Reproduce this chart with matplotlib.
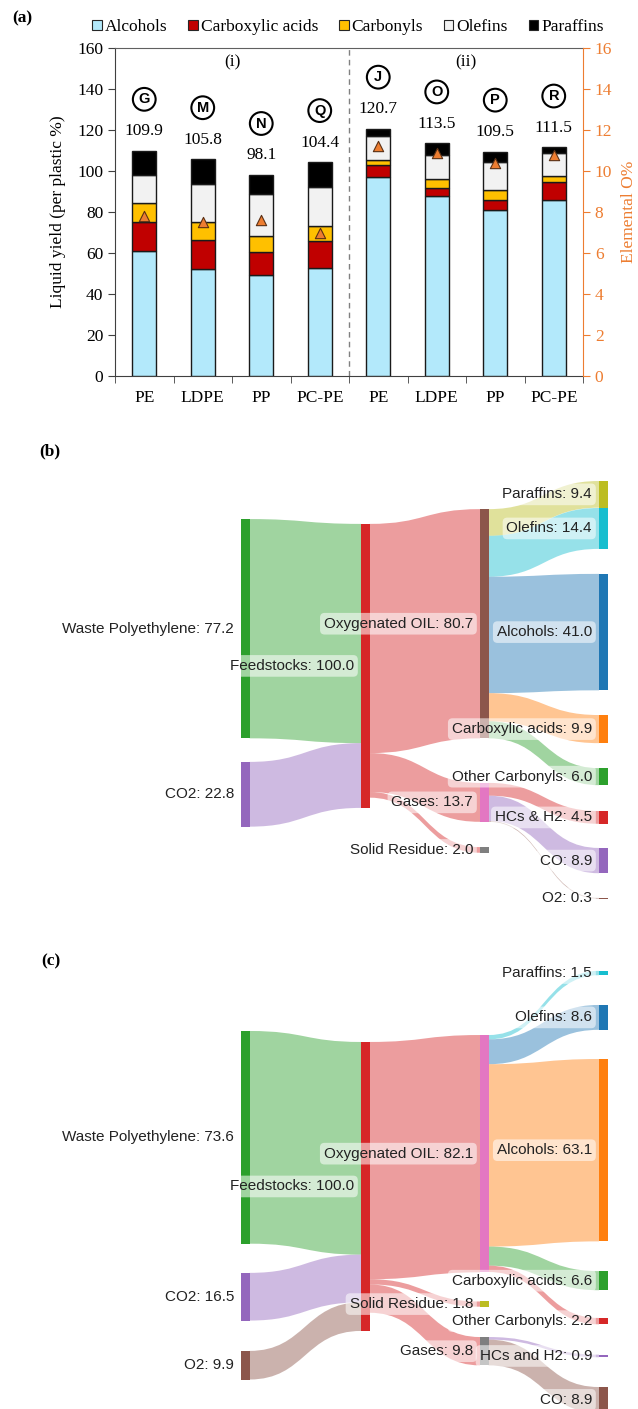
import matplotlib
matplotlib.use('Agg')
import matplotlib.pyplot as plt
from matplotlib.patches import Patch, PathPatch, Rectangle
from matplotlib.path import Path
import numpy as np

# ---------------- Panel (a) data ----------------
categories = ['PE', 'LDPE', 'PP', 'PC-PE', 'PE', 'LDPE', 'PP', 'PC-PE']
alcohols = [61.0, 52.2, 49.1, 52.7, 97.2, 87.8, 81.0, 85.8]
carboxylic = [14.3, 14.0, 11.5, 13.0, 5.8, 3.9, 5.0, 8.8]
carbonyls = [8.9, 9.1, 7.7, 7.6, 2.6, 4.4, 4.7, 3.0]
olefins = [13.8, 18.4, 20.5, 18.7, 11.4, 11.7, 13.5, 11.4]
paraffins = [11.9, 12.1, 9.3, 12.4, 3.7, 5.7, 5.3, 2.5]
totals = [109.9, 105.8, 98.1, 104.4, 120.7, 113.5, 109.5, 111.5]
run_ids = ['G', 'M', 'N', 'Q', 'J', 'O', 'P', 'R']
elemental_O = [7.8, 7.5, 7.6, 7.0, 11.2, 10.9, 10.4, 10.8]
series_names = ['Alcohols', 'Carboxylic acids', 'Carbonyls', 'Olefins', 'Paraffins']
y_ticks_left = [0, 20, 40, 60, 80, 100, 120, 140, 160]
y_ticks_right = [0, 2, 4, 6, 8, 10, 12, 14, 16]

# ---------------- Panel (b) data ----------------
b_names = ['Waste Polyethylene', 'CO2', 'Feedstocks', 'Oxygenated OIL', 'Gases',
           'Solid Residue', 'Paraffins', 'Olefins', 'Alcohols', 'Carboxylic acids',
           'Other Carbonyls', 'HCs & H2', 'CO', 'O2']
b_values = [77.2, 22.8, 100.0, 80.7, 13.7, 2.0, 9.4, 14.4, 41.0, 9.9, 6.0, 4.5, 8.9, 0.3]
b_src = [0, 1, 2, 2, 2, 3, 3, 3, 3, 3, 4, 4, 4]
b_tgt = [2, 2, 3, 4, 5, 6, 7, 8, 9, 10, 11, 12, 13]
b_flow = [77.2, 22.8, 80.7, 13.7, 2.0, 9.4, 14.4, 41.0, 9.9, 6.0, 4.5, 8.9, 0.3]

# ---------------- Panel (c) data ----------------
c_names = ['Waste Polyethylene', 'CO2', 'O2', 'Feedstocks', 'Oxygenated OIL',
           'Solid Residue', 'Gases', 'Paraffins', 'Olefins', 'Alcohols',
           'Carboxylic acids', 'Other Carbonyls', 'HCs and H2', 'CO']
c_values = [73.6, 16.5, 9.9, 100.0, 82.1, 1.8, 9.8, 1.5, 8.6, 63.1, 6.6, 2.2, 0.9, 8.9]
c_src = [0, 1, 2, 3, 3, 3, 4, 4, 4, 4, 4, 6, 6]
c_tgt = [3, 3, 3, 4, 5, 6, 7, 8, 9, 10, 11, 12, 13]
c_flow = [73.6, 16.5, 9.9, 82.1, 1.8, 9.8, 1.5, 8.6, 63.1, 6.6, 2.2, 0.9, 8.9]

# ---------------- Layout / style ----------------
FIG_W, FIG_H = 638, 1409
SERIF = 'Liberation Serif'
SANS = 'Liberation Sans'
bar_colors = ['#B3E9FB', '#C00000', '#FFC000', '#F2F2F2', '#000000']
ORANGE = '#ED7D31'

T10 = {'blue': '#1f77b4', 'orange': '#ff7f0e', 'green': '#2ca02c', 'red': '#d62728',
       'purple': '#9467bd', 'brown': '#8c564b', 'pink': '#e377c2', 'gray': '#7f7f7f',
       'olive': '#bcbd22', 'cyan': '#17becf'}

b_col = [0, 0, 1, 2, 2, 2, 3, 3, 3, 3, 3, 3, 3, 3]
b_top = [20.8, 106.3, 22.5, 17.3, 113.7, 136.3, 7.4, 16.9, 40.1, 89.8, 108.5, 123.6, 136.6, 154.2]
b_ncol = [T10[c] for c in ['green', 'purple', 'red', 'brown', 'pink', 'gray', 'olive', 'cyan',
                           'blue', 'orange', 'green', 'red', 'purple', 'brown']]
b_lcol = [T10[c] for c in ['green', 'purple', 'red', 'red', 'red', 'olive', 'cyan', 'blue',
                           'orange', 'green', 'red', 'purple', 'brown']]

c_col = [0, 0, 0, 1, 2, 2, 2, 3, 3, 3, 3, 3, 3, 3]
c_top = [21.1, 104.8, 131.8, 24.9, 22.5, 114.7, 127.0, 0.3, 12.1, 30.8, 104.2, 120.4, 133.1, 144.3]
c_ncol = [T10[c] for c in ['green', 'purple', 'brown', 'red', 'pink', 'olive', 'gray', 'cyan',
                           'blue', 'orange', 'green', 'red', 'purple', 'brown']]
c_lcol = [T10[c] for c in ['green', 'purple', 'brown', 'red', 'red', 'red', 'cyan', 'blue',
                           'orange', 'green', 'red', 'purple', 'brown']]

col_x = [241, 361, 480, 599]
NODE_W = 8.5

fig = plt.figure(figsize=(FIG_W / 100, FIG_H / 100), dpi=100)


def px_axes(left, top, right, bottom):
    return fig.add_axes([left / FIG_W, 1 - bottom / FIG_H, (right - left) / FIG_W, (bottom - top) / FIG_H])


# ================= Panel (a) =================
ax = px_axes(115, 48, 583, 376)
x = np.arange(len(categories))
stacks = [alcohols, carboxylic, carbonyls, olefins, paraffins]
bottom = np.zeros(len(categories))
for vals, col, name in zip(stacks, bar_colors, series_names):
    ax.bar(x, vals, 0.41, bottom=bottom, color=col, edgecolor='#1a1a1a', linewidth=1.0,
           label=name, zorder=3)
    bottom += np.array(vals)

ax.set_xlim(-0.5, len(categories) - 0.5)
ax.set_ylim(0, 160)
ax.set_yticks(y_ticks_left)
ax.set_yticklabels([str(t) for t in y_ticks_left], fontfamily=SERIF, fontsize=12.5)
ax.set_xticks(x)
ax.set_xticklabels(categories, fontfamily=SERIF, fontsize=12.5)
ax.set_xticks(np.arange(-0.5, len(categories)), minor=True)
ax.tick_params(axis='x', which='major', length=0, pad=10)
ax.tick_params(axis='x', which='minor', length=5, direction='out', color='#404040')
ax.tick_params(axis='y', length=5, direction='out', color='#404040')
ax.set_ylabel('Liquid yield (per plastic %)', fontfamily=SERIF, fontsize=12.5, labelpad=8)
ax.axvline(3.5, color='#808080', ls=(0, (4, 3)), lw=1.0, zorder=2)
ax.spines['top'].set_color('#606060')
ax.spines['left'].set_color('#404040')
ax.spines['bottom'].set_color('#404040')
ax.spines['right'].set_visible(False)

ax.text(1.5, 153, '(i)', ha='center', va='center', fontfamily=SERIF, fontsize=12.5)
ax.text(5.5, 153, '(ii)', ha='center', va='center', fontfamily=SERIF, fontsize=12.5)

for xi, tot, rid in zip(x, totals, run_ids):
    ax.annotate(f'{tot:.1f}', (xi, tot), xytext=(0, 14), textcoords='offset points',
                ha='center', va='center', fontfamily=SERIF, fontsize=12.5)
    ax.annotate(rid, (xi, tot), xytext=(0, 37), textcoords='offset points',
                ha='center', va='center', fontfamily=SANS, fontweight='bold', fontsize=10.5,
                bbox=dict(boxstyle='circle,pad=0.3', fc='white', ec='black', lw=1.5))

ax2 = ax.twinx()
ax2.set_ylim(0, 16)
ax2.set_yticks(y_ticks_right)
ax2.set_yticklabels([str(t) for t in y_ticks_right], fontfamily=SERIF, fontsize=12.5, color=ORANGE)
ax2.tick_params(axis='y', colors=ORANGE, length=5, direction='out')
ax2.spines['right'].set_color(ORANGE)
for s in ['top', 'left', 'bottom']:
    ax2.spines[s].set_visible(False)
ax2.set_ylabel('Elemental O%', fontfamily=SERIF, fontsize=12.5, color=ORANGE, labelpad=6)
ax2.scatter(x, elemental_O, marker='^', s=55, c=ORANGE, edgecolors='#5a3015', linewidths=0.8, zorder=5)

handles = [Patch(facecolor=c, edgecolor='#262626', linewidth=0.8, label=n)
           for c, n in zip(bar_colors, series_names)]
fig.legend(handles=handles, loc='center', bbox_to_anchor=(348 / FIG_W, 1 - 27 / FIG_H), ncol=5,
           frameon=False, prop={'family': SERIF, 'size': 12.5}, handlelength=0.55,
           handleheight=0.55, handletextpad=0.17, columnspacing=1.2, borderaxespad=0)

fig.text(12 / FIG_W, 1 - 18 / FIG_H, '(a)', fontfamily=SERIF, fontweight='bold', fontsize=12.5,
         ha='left', va='center')
fig.text(39 / FIG_W, 1 - 451 / FIG_H, '(b)', fontfamily=SERIF, fontweight='bold', fontsize=12.5,
         ha='left', va='center')
fig.text(41 / FIG_W, 1 - 961 / FIG_H, '(c)', fontfamily=SERIF, fontweight='bold', fontsize=12.5,
         ha='left', va='center')


# ================= Sankey drawing =================
def draw_sankey(axs, names, values, cols, tops, ncols, src, tgt, flows, lcols):
    n = len(names)
    out_off = list(tops)
    in_off = list(tops)
    link_src_y = [0.0] * len(flows)
    link_tgt_y = [0.0] * len(flows)
    for node in range(n):
        outs = sorted([k for k in range(len(flows)) if src[k] == node], key=lambda k: tops[tgt[k]])
        for k in outs:
            link_src_y[k] = out_off[node]
            out_off[node] += flows[k]
        ins = sorted([k for k in range(len(flows)) if tgt[k] == node], key=lambda k: tops[src[k]])
        for k in ins:
            link_tgt_y[k] = in_off[node]
            in_off[node] += flows[k]
    for k in range(len(flows)):
        x0 = col_x[cols[src[k]]] + NODE_W
        x1 = col_x[cols[tgt[k]]]
        xm = (x0 + x1) / 2
        y0 = link_src_y[k]
        y1 = link_tgt_y[k]
        w = flows[k]
        verts = [(x0, y0), (xm, y0), (xm, y1), (x1, y1), (x1, y1 + w),
                 (xm, y1 + w), (xm, y0 + w), (x0, y0 + w), (x0, y0)]
        codes = [Path.MOVETO, Path.CURVE4, Path.CURVE4, Path.CURVE4, Path.LINETO,
                 Path.CURVE4, Path.CURVE4, Path.CURVE4, Path.CLOSEPOLY]
        axs.add_patch(PathPatch(Path(verts, codes), facecolor=lcols[k], alpha=0.45,
                                edgecolor='none', zorder=1))
    for i in range(n):
        axs.add_patch(Rectangle((col_x[cols[i]], tops[i]), NODE_W, values[i], facecolor=ncols[i],
                                edgecolor='none', zorder=2))
    for i in range(n):
        axs.text(col_x[cols[i]] - 7, tops[i] + values[i] / 2, f'{names[i]}: {values[i]:.1f}',
                 ha='right', va='center', fontfamily=SANS, fontsize=11, color='#222222', zorder=4,
                 bbox=dict(boxstyle='round,pad=0.25,rounding_size=0.3', fc='white', ec='none',
                           alpha=0.55))


# Panel (b)
b_scale = 2.84
axb = px_axes(0, 460, FIG_W, 930)
axb.set_xlim(0, FIG_W)
axb.set_ylim(470 / b_scale, 0)
axb.axis('off')
draw_sankey(axb, b_names, b_values, b_col, b_top, b_ncol, b_src, b_tgt, b_flow, b_lcol)

# Panel (c)
c_scale = 2.89
axc = px_axes(0, 970, FIG_W, FIG_H)
axc.set_xlim(0, FIG_W)
axc.set_ylim(439 / c_scale, 0)
axc.axis('off')
draw_sankey(axc, c_names, c_values, c_col, c_top, c_ncol, c_src, c_tgt, c_flow, c_lcol)

fig.savefig('out.png', dpi=100)
